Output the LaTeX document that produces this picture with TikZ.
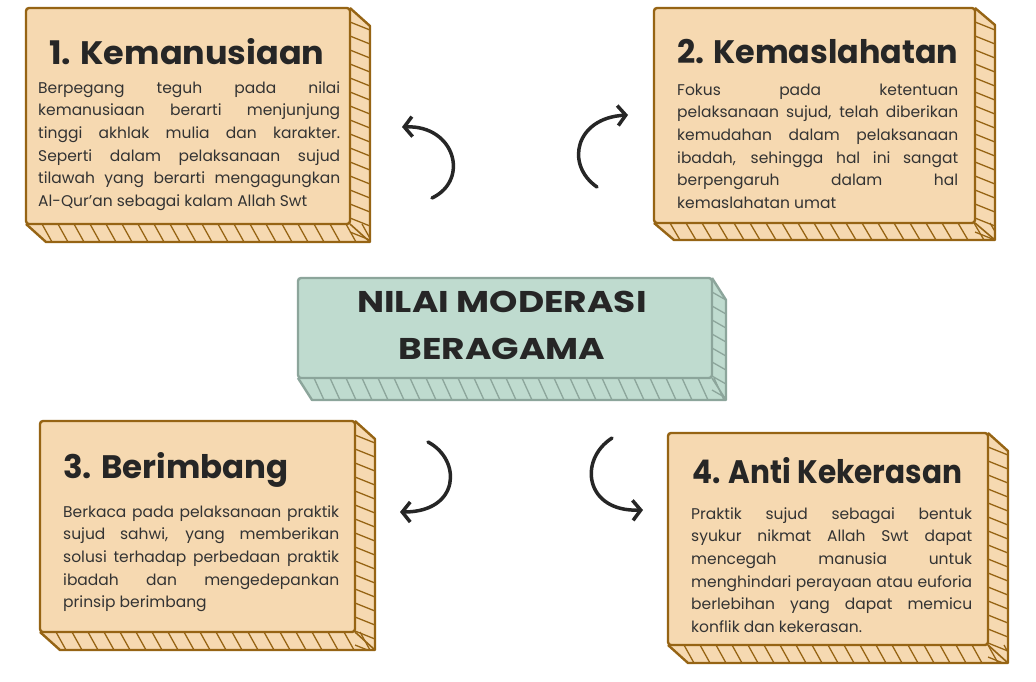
\documentclass[tikz,border=0pt]{standalone}
\usepackage{fontspec}
\usepackage{graphicx}
\setmainfont{Poppins}
\usetikzlibrary{arrows.meta}

\definecolor{krem}{HTML}{F6D9B1}
\definecolor{coklat}{HTML}{966414}
\definecolor{hijau}{HTML}{BFDBCF}
\definecolor{hijaugaris}{HTML}{8CA59B}
\definecolor{teks}{HTML}{333333}

\hyphenpenalty=10000
\tolerance=10000

\tikzset{
  judul/.style={anchor=base west, inner sep=0, font=\fontsize{32.5}{36}\selectfont\bfseries, text=black!85},
  isi/.style={anchor=north west, inner sep=0, text width=#1, align=justify,
    font=\fontsize{15.5}{22.7}\selectfont, text=teks},
  tengah/.style={anchor=base, inner sep=0, font=\fontsize{30}{36}\selectfont\bfseries, text=black!85},
  panah/.style={line width=3.5pt, line cap=round, line join=round, black!85,
    -{Straight Barb[length=8pt,width=20pt]}}
}

% kotak 3D: #1,#2 kiri atas; #3,#4 kanan bawah; #5,#6 tebal; #7 isi; #8 garis
\newcommand{\kotak}[8]{
  \fill[#7] (#3,#2) -- (#3+#5,#2+#6) -- (#3+#5,#4+#6) -- (#1+#5,#4+#6) -- (#1,#4) -- cycle;
  \begin{scope}
    \clip (#3,#2) -- (#3+#5,#2+#6) -- (#3+#5,#4+#6) -- (#1+#5,#4+#6) -- (#1,#4) -- cycle;
    \foreach \hx in {0,16,...,440} \draw[#8,line width=1.3pt] (#1+\hx,#4) -- (#1+\hx+10,#4+#6);
    \foreach \hy in {0,14,...,240} \draw[#8,line width=1.3pt] (#3,#2+\hy) -- (#3+#5,#2+\hy+8);
  \end{scope}
  \draw[#8,line width=2.4pt,line join=round] (#3,#2) -- (#3+#5,#2+#6) -- (#3+#5,#4+#6) -- (#1+#5,#4+#6) -- (#1,#4);
  \draw[#8,line width=1.6pt] (#3,#4) -- (#3+#5,#4+#6);
  \filldraw[fill=#7,draw=#8,line width=2.4pt,rounded corners=3pt] (#1,#2) rectangle (#3,#4);
}

\begin{document}
\begin{tikzpicture}[x=1pt,y=-1pt]
\useasboundingbox[fill=white] (0,0) rectangle (1036,681);

% kotak
\kotak{26}{8}{350}{224}{20}{18}{krem}{coklat}
\kotak{654}{8}{975}{223}{20}{17}{krem}{coklat}
\kotak{40}{421}{355}{632}{20}{18}{krem}{coklat}
\kotak{668}{433}{988}{645}{20}{18}{krem}{coklat}
\kotak{298}{278}{712}{378}{14}{22}{hijau}{hijaugaris}

% judul
\node[judul] (judul1) at (49,64) {\scalebox{1.03}[1]{1. Kemanusiaan}};
\node[judul] (judul2) at (677,63) {\scalebox{0.98}[1]{2. Kemaslahatan}};
\node[judul] (judul3) at (63,478) {3. Berimbang};
\node[judul] (judul4) at (692,483) {\scalebox{0.91}[1]{4. Anti Kekerasan}};

\node[tengah] (pusat1) at (502,312) {\scalebox{1.2}[1]{NILAI MODERASI}};
\node[tengah] (pusat2) at (502,359) {\scalebox{1.2}[1]{BERAGAMA}};

% isi
\node[isi=302pt] (isi1) at (38,77) {\strut Berpegang teguh pada nilai\linebreak
  kemanusiaan berarti menjunjung\linebreak
  tinggi akhlak mulia dan karakter.\linebreak
  Seperti dalam pelaksanaan sujud\linebreak
  tilawah yang berarti mengagungkan\linebreak
  Al-Qur’an sebagai kalam Allah Swt};
\node[isi=281pt] (isi2) at (677,79) {\strut Fokus pada ketentuan\linebreak
  pelaksanaan sujud, telah diberikan\linebreak
  kemudahan dalam pelaksanaan\linebreak
  ibadah, sehingga hal ini sangat\linebreak
  berpengaruh dalam hal\linebreak
  kemaslahatan umat};
\node[isi=276pt] (isi3) at (63,501) {\strut Berkaca pada pelaksanaan praktik\linebreak
  sujud sahwi, yang memberikan\linebreak
  solusi terhadap perbedaan praktik\linebreak
  ibadah dan mengedepankan\linebreak
  prinsip berimbang};
\node[isi=281pt] (isi4) at (691,503) {\strut Praktik sujud sebagai bentuk\linebreak
  syukur nikmat Allah Swt dapat\linebreak
  mencegah manusia untuk\linebreak
  menghindari perayaan atau euforia\linebreak
  berlebihan yang dapat memicu\linebreak
  konflik dan kekerasan.};

% panah
\coordinate (a1) at (432,198); \coordinate (b1) at (402,127);
\coordinate (a2) at (597,187); \coordinate (b2) at (628,115);
\coordinate (a3) at (428,442); \coordinate (b3) at (400,512);
\coordinate (a4) at (612,438); \coordinate (b4) at (643,510);
\draw[panah] (a1) .. controls (470,180) and (455,125) .. (b1);
\draw[panah] (a2) .. controls (565,165) and (575,118) .. (b2);
\draw[panah] (a3) .. controls (462,460) and (460,512) .. (b3);
\draw[panah] (a4) .. controls (578,460) and (585,512) .. (b4);
\end{tikzpicture}
\end{document}
